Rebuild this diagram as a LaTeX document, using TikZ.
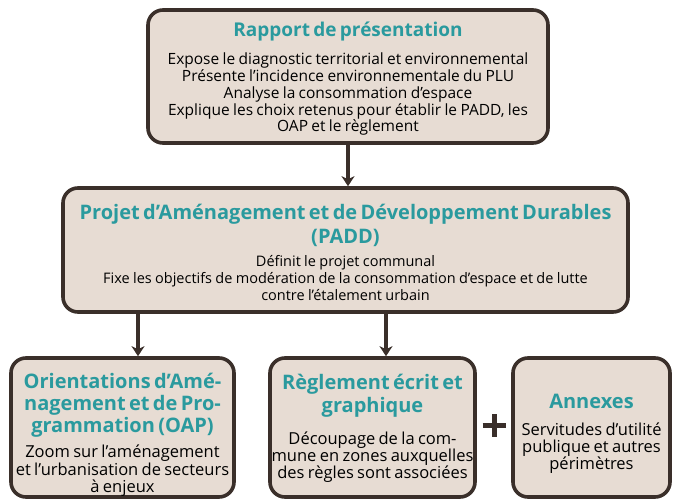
\documentclass[tikz,border=0pt]{standalone}
\usepackage{fontspec}
\setmainfont{Open Sans}
\usetikzlibrary{arrows.meta}
\definecolor{boxfill}{HTML}{E7DCD3}
\definecolor{boxline}{HTML}{3A2F2A}
\definecolor{ttlteal}{HTML}{2A9A9E}
\newcommand{\ttlf}[2]{\color{ttlteal}\bfseries\fontsize{#1}{#2}\selectfont}
\newcommand{\bodyf}[2]{\color{black}\mdseries\fontsize{#1}{#2}\selectfont}
\begin{document}
\begin{tikzpicture}[x=1pt,y=-1pt,
  box/.style={draw=boxline, line width=3.6pt, fill=boxfill, rounded corners=15pt, inner sep=0pt},
  txt/.style={align=center, inner sep=0pt, text=black},
  conn/.style={draw=boxline, line width=3.6pt, -{Stealth[length=10pt,width=13pt,inset=3pt]}},
  plus/.style={draw=boxline, line width=5pt}]
\useasboundingbox (0,0) rectangle (673,499);
\clip (0,0) rectangle (673,499);
% boxes
\node[box, minimum width=400pt, minimum height=133pt] (rap) at (348,76.5) {};
\node[box, minimum width=565pt, minimum height=124pt] (padd) at (345.5,250) {};
\node[box, minimum width=223pt, minimum height=139pt] (oap) at (122.5,427.5) {};
\node[box, minimum width=205pt, minimum height=139pt] (reg) at (372.5,427.5) {};
\node[box, minimum width=157pt, minimum height=139pt] (ann) at (591.5,427.5) {};
% texts
\node[txt, text width=392pt] (rapT) at (348,79) {{\ttlf{19}{24}Rapport de présentation\par}\vspace{11pt}
  {\bodyf{15.5}{16.8}Expose le diagnostic territorial et environnemental\\
  Présente l'incidence environnementale du PLU\\
  Analyse la consommation d'espace\\
  Explique les choix retenus pour établir le PADD, les\\
  OAP et le règlement\par}};
\node[txt, text width=562pt] (paddT) at (345.5,252) {{\ttlf{20}{24}Projet d’Aménagement et de Développement Durables\\(PADD)\par}\vspace{6pt}
  {\bodyf{14.5}{17}Définit le projet communal\\
  Fixe les objectifs de modération de la consommation d'espace et de lutte\\
  contre l'étalement urbain\par}};
\node[txt, text width=222pt] (oapT) at (122.5,435) {{\ttlf{20}{22}Orientations d’Amé-\\nagement et de Pro-\\grammation (OAP)\par}\vspace{7.5pt}
  {\bodyf{16.5}{17.5}Zoom sur l'aménagement\\
  et l'urbanisation de secteurs\\
  à enjeux\par}};
\node[txt, text width=204pt] (regT) at (372.5,428.5) {{\ttlf{20}{23}Règlement écrit et\\graphique\par}\vspace{14pt}
  {\bodyf{16.5}{17}Découpage de la com-\\
  mune en zones auxquelles\\
  des règles sont associées\par}};
\node[txt, text width=156pt] (annT) at (591.5,434) {{\ttlf{20}{22}Annexes\par}\vspace{10pt}
  {\bodyf{16.5}{17}Servitudes d'utilité\\
  publique et autres\\
  périmètres\par}};
% connectors
\coordinate (a1) at (138,0);
\coordinate (a2) at (386,0);
\draw[conn] (rap.south) -- (rap.south |- padd.north);
\draw[conn] (padd.south -| a1) -- (oap.north -| a1);
\draw[conn] (padd.south -| a2) -- (reg.north -| a2);
% plus sign
\coordinate (pl) at (494,425);
\draw[plus] ([xshift=-11.5pt]pl) -- ([xshift=11.5pt]pl);
\draw[plus] ([yshift=-11.5pt]pl) -- ([yshift=11.5pt]pl);
\end{tikzpicture}
\end{document}
